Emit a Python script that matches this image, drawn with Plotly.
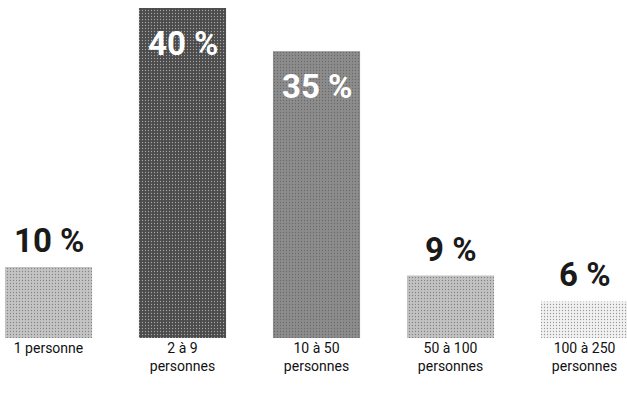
import plotly.graph_objects as go

categories = ["1 personne", "2 à 9<br>personnes", "10 à 50<br>personnes", "50 à 100<br>personnes", "100 à 250<br>personnes"]
values = [10, 40, 35, 9, 6]
value_labels = ["10 %", "40 %", "35 %", "9 %", "6 %"]
colors = ["#c4c4c4", "#4b4b4b", "#8c8c8c", "#c2c2c2", "#f1f1f1"]
inside = [False, True, True, False, False]

xs = list(range(len(categories)))
fig = go.Figure()
fig.add_trace(go.Bar(
    x=xs, y=values, width=0.65,
    marker=dict(color=colors, line=dict(width=0),
                pattern=dict(shape=".", size=3, solidity=0.15, fgcolor="#ffffff", fillmode="overlay")),
    hoverinfo="skip",
))

font_fam = "Roboto"
for x, v, lab, ins in zip(xs, values, value_labels, inside):
    if ins:
        fig.add_annotation(x=x, y=v, text=f"<b>{lab}</b>", showarrow=False,
                           yanchor="top", yshift=-14,
                           font=dict(family=font_fam, size=33, color="#ffffff"))
    else:
        fig.add_annotation(x=x, y=v, text=f"<b>{lab}</b>", showarrow=False,
                           yanchor="bottom", yshift=5,
                           font=dict(family=font_fam, size=33, color="#1a1a1a"))

fig.update_layout(
    width=627, height=409,
    margin=dict(l=0, r=0, t=0, b=71),
    paper_bgcolor="#ffffff", plot_bgcolor="#ffffff",
    showlegend=False,
    xaxis=dict(range=[-0.362, 4.317], tickvals=xs, ticktext=categories,
               showgrid=False, zeroline=False, showline=False, ticks="",
               tickfont=dict(family=font_fam, size=14, color="#111111")),
    yaxis=dict(range=[1.76, 40.93], visible=False, showgrid=False, zeroline=False),
)
fig.write_html("out.html")
